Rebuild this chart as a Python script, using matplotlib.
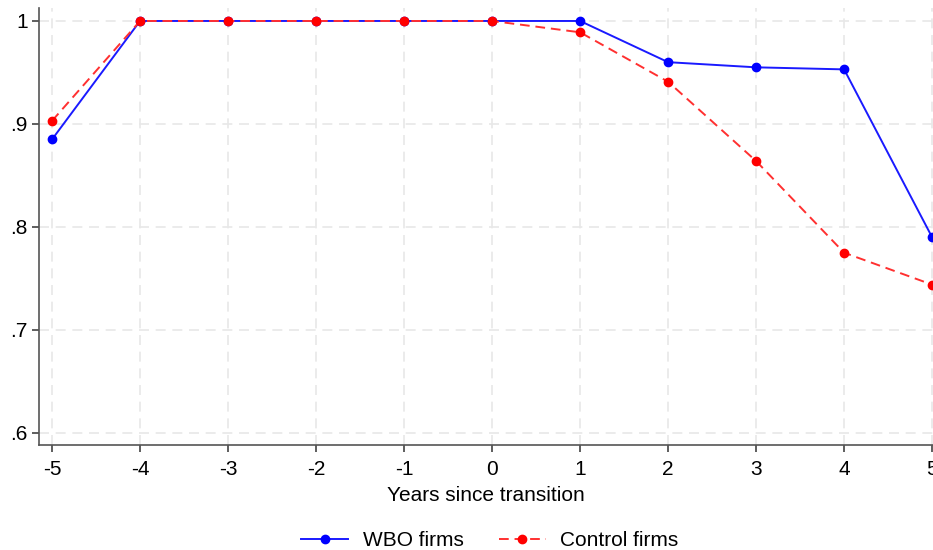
import matplotlib.pyplot as plt

plt.rcParams['font.family'] = ['Liberation Sans', 'DejaVu Sans']

# Data
years = [-5, -4, -3, -2, -1, 0, 1, 2, 3, 4, 5]
wbo_firms = [0.885, 1.0, 1.0, 1.0, 1.0, 1.0, 1.0, 0.960, 0.955, 0.953, 0.790]
control_firms = [0.903, 1.0, 1.0, 1.0, 1.0, 1.0, 0.989, 0.941, 0.864, 0.775, 0.744]

y_ticks = [0.6, 0.7, 0.8, 0.9, 1.0]
y_tick_labels = ['.6', '.7', '.8', '.9', '1']

fig = plt.figure(figsize=(9.33, 5.5), dpi=100)
ax = fig.add_axes([39 / 933, 1 - 445 / 550, 1 - 39 / 933, (445 - 8) / 550])

ax.plot(years, wbo_firms, color='#1a1aff', lw=1.4, marker='o', ms=6,
        markerfacecolor='#0000ff', markeredgecolor='#0000ff',
        label='WBO firms', zorder=3, clip_on=False)
ax.plot(years, control_firms, color='#ff3030', lw=1.4, ls=(0, (5, 3)),
        marker='o', ms=6, markerfacecolor='#ff0000',
        markeredgecolor='#ff0000', label='Control firms', zorder=4,
        clip_on=False)

ax.set_xlim(-5.148, 5.01)
ax.set_ylim(0.5883, 1.0126)
ax.set_xticks(years)
ax.set_xticklabels([str(y) for y in years])
ax.set_yticks(y_ticks)
ax.set_yticklabels(y_tick_labels)

ax.grid(True, color='#e8e8e8', ls=(0, (6, 4)), lw=1.2)
ax.set_axisbelow(True)

for side in ['top', 'right']:
    ax.spines[side].set_visible(False)
for side in ['left', 'bottom']:
    ax.spines[side].set_color('#555555')
    ax.spines[side].set_linewidth(1.2)

ax.tick_params(axis='both', labelsize=15, length=5, width=1.1, pad=3,
               color='#333333', labelcolor='black')
ax.tick_params(axis='x', pad=6)
ax.set_xlabel('Years since transition', fontsize=15, labelpad=5)

fig.legend(loc='lower center', bbox_to_anchor=(490 / 933, -0.034), ncol=2,
           frameon=False, fontsize=15, handlelength=2.25, handletextpad=0.7,
           columnspacing=1.7)

fig.savefig('out.png', dpi=100)
